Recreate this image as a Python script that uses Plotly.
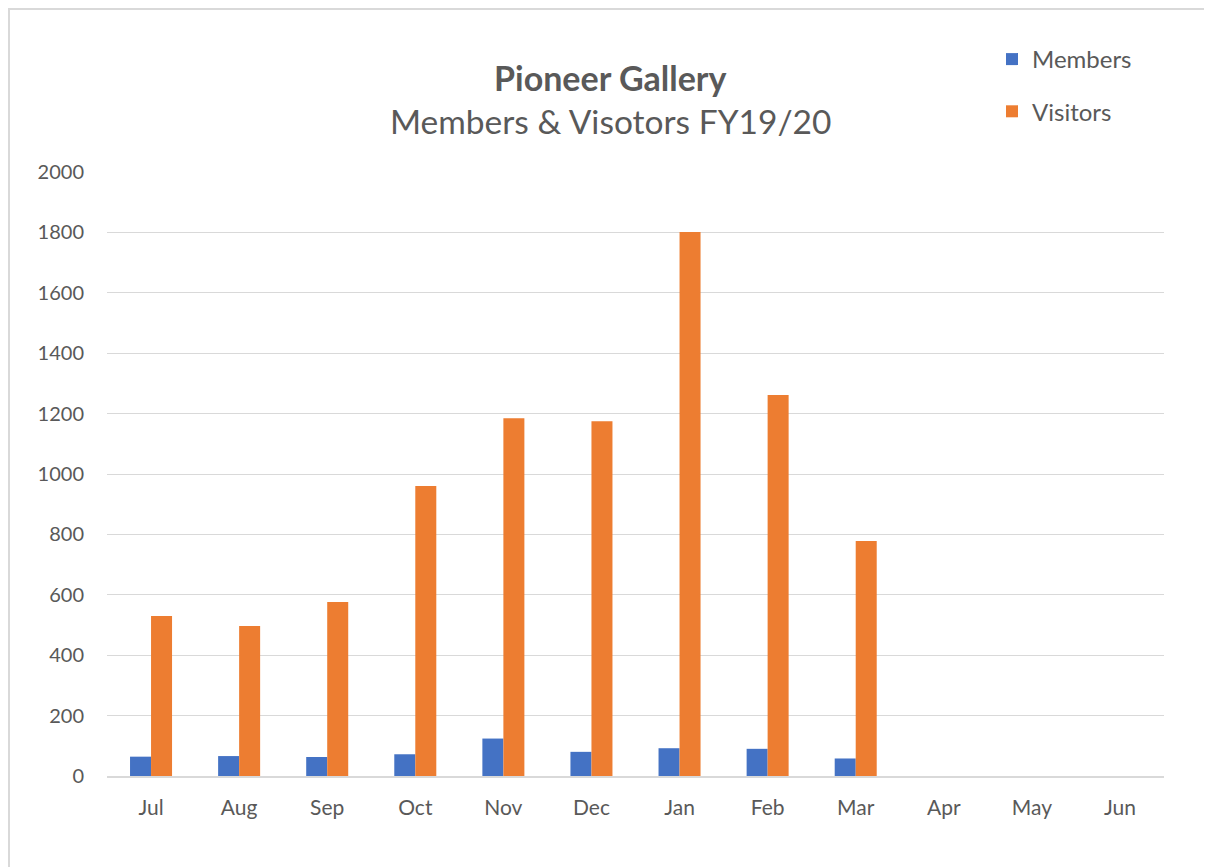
import plotly.graph_objects as go

months = ["Jul", "Aug", "Sep", "Oct", "Nov", "Dec", "Jan", "Feb", "Mar", "Apr", "May", "Jun"]
members = [64, 66, 63, 72, 124, 80, 92, 90, 58, None, None, None]
visitors = [530, 497, 576, 960, 1185, 1175, 1801, 1262, 778, None, None, None]

# The page body adds an 8px offset; figure coordinates below are screen coords minus 8.
W, H = 1204, 859
L, R, T, B = 99, 1156, 164, 768   # plot area in figure px
PW, PH = R - L, B - T

def px(x):
    return (x - L) / PW

def py(y):
    return (B - y) / PH

font_family = "Lato, Open Sans, sans-serif"
grey = "#595959"

fig = go.Figure()
fig.add_trace(go.Bar(name="Members", x=months, y=members, marker=dict(color="#4472C4", line=dict(width=0)),
                     legendgroup="m"))
fig.add_trace(go.Bar(name="Visitors", x=months, y=visitors, marker=dict(color="#ED7D31", line=dict(width=0)),
                     legendgroup="v"))

fig.update_layout(
    width=W, height=H,
    paper_bgcolor="white", plot_bgcolor="white",
    margin=dict(l=L, r=W - R, t=T, b=H - B, autoexpand=False),
    barmode="group", bargap=0.523, bargroupgap=0,
    font=dict(family=font_family, color=grey, size=20),
    showlegend=True,
    legend=dict(x=px(984), y=py(29), xanchor="left", yanchor="top",
                font=dict(size=24, color=grey), tracegroupgap=18, itemwidth=30,
                bgcolor="rgba(0,0,0,0)"),
    xaxis=dict(showgrid=False, showline=True, linecolor="#D9D9D9", linewidth=2, ticks="",
               tickfont=dict(size=21, color=grey), ticklabelstandoff=12),
    yaxis=dict(range=[0, 2000], dtick=200, showgrid=True, gridcolor="#D9D9D9", gridwidth=1.3,
               zeroline=False, ticks="", tickfont=dict(size=20, color=grey), ticklabelstandoff=22),
    shapes=[dict(type="rect", xref="paper", yref="paper",
                 x0=px(1), x1=px(1199), y0=py(875), y1=py(1),
                 line=dict(color="#D9D9D9", width=2), layer="below")],
    annotations=[
        dict(text="<b>Pioneer Gallery</b>", x=px(602), y=py(69), xref="paper", yref="paper",
             showarrow=False, font=dict(size=34, color=grey, family=font_family), yanchor="middle"),
        dict(text="Members & Visotors FY19/20", x=px(602), y=py(113), xref="paper", yref="paper",
             showarrow=False, font=dict(size=33.5, color=grey, family=font_family), yanchor="middle"),
    ],
)

fig.write_html("out.html")
